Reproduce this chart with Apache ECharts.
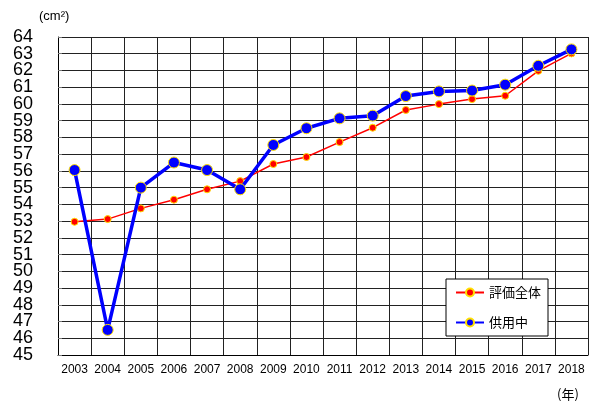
<!DOCTYPE html>
<html>
<head>
<meta charset="utf-8">
<script src="https://cdn.jsdelivr.net/npm/echarts@6/dist/echarts.min.js"></script>
<style>
    html, body { margin: 0; padding: 0; background: #fff; }
    #main { width: 597px; height: 401px; }
</style>
</head>
<body>
<div id="main"></div>
<script>
'use strict';

var years = ['2003', '2004', '2005', '2006', '2007', '2008', '2009', '2010',
    '2011', '2012', '2013', '2014', '2015', '2016', '2017', '2018'];
// 評価全体
var allValues = [52.96, 53.12, 53.76, 54.28, 54.9, 55.39, 56.41, 56.83,
    57.72, 58.58, 59.64, 59.99, 60.29, 60.49, 61.98, 63.02];
// 供用中
var inUseValues = [56.05, 46.5, 55.0, 56.5, 56.05, 54.9, 57.55, 58.55,
    59.14, 59.3, 60.47, 60.75, 60.8, 61.15, 62.28, 63.26];
var yMin = 45, yMax = 64;

// two stacked y axes (even / odd labels) so that the tightly packed labels all show
function yAxisFor(odd, main) {
    return {
        type: 'value',
        position: 'left',
        min: yMin, max: yMax, interval: 1,
        axisLine: { show: main, lineStyle: { color: '#000', width: 1 } },
        axisTick: { show: main, inside: true, length: 4, lineStyle: { color: '#777' } },
        axisLabel: {
            margin: 25,
            color: '#000', fontSize: 18, fontFamily: 'Liberation Sans',
            formatter: function(v) {
                return (v % 2 === 1) === odd ? String(v) : '';
            }
        },
        splitLine: { show: main, lineStyle: { color: '#222', width: 1 } }
    };
}

var myChart = echarts.init(document.getElementById('main'));
var option = {
    animation: false,
    backgroundColor: '#fff',
    textStyle: { fontFamily: 'Liberation Sans' },
    grid: { left: 58, right: 9, top: 37, bottom: 46 },
    title: [{
        text: '(cm²)', left: 34, top: 5,
        textStyle: { fontSize: 13, fontWeight: 'normal', color: '#000' }
    }, {
        text: '(年)', left: 552, top: 383,
        textStyle: { fontSize: 13, fontWeight: 'normal', color: '#000', fontFamily: 'Noto Sans CJK JP' }
    }],
    legend: {
        orient: 'vertical',
        left: 446, top: 279,
        padding: [7, 7, 7, 9],
        itemGap: 17,
        itemWidth: 28, itemHeight: 10,
        backgroundColor: '#fff',
        borderColor: '#000', borderWidth: 1,
        textStyle: { fontSize: 13, color: '#000', fontFamily: 'Noto Sans CJK JP' },
        data: ['評価全体', '供用中']
    },
    xAxis: {
        type: 'category',
        data: years,
        boundaryGap: true,
        axisLine: { lineStyle: { color: '#000', width: 1 } },
        axisTick: { show: false },
        axisLabel: { color: '#000', fontSize: 12, margin: 9, interval: 0 },
        splitLine: { show: true, interval: 0, lineStyle: { color: '#222', width: 1 } }
    },
    yAxis: [yAxisFor(false, true), yAxisFor(true, false)],
    series: [{
        name: '評価全体',
        type: 'line',
        data: allValues,
        symbol: 'circle',
        symbolSize: 7,
        lineStyle: { color: '#ff0000', width: 1.5 },
        itemStyle: { color: '#ff0000', borderColor: '#ffe000', borderWidth: 1 },
        z: 3
    }, {
        name: '供用中',
        type: 'line',
        data: inUseValues,
        symbol: 'circle',
        symbolSize: 11,
        lineStyle: { color: '#0000ff', width: 3.5 },
        itemStyle: { color: '#0000ff', borderColor: '#ffe000', borderWidth: 1 },
        z: 4
    }]
};
myChart.setOption(option);
</script>
</body>
</html>
